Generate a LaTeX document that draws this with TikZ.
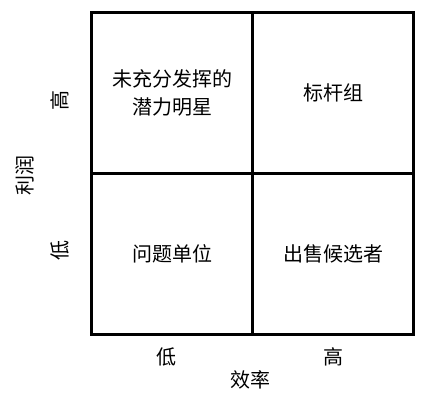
\documentclass[tikz,border=0pt]{standalone}
\usepackage{fontspec}
\setmainfont{Noto Sans CJK SC}
\usepackage{tikz}
\usetikzlibrary{positioning}

\begin{document}
\begin{tikzpicture}[x=1pt, y=1pt,
    cell/.style={draw, line width=3.5pt, minimum size=161pt, outer sep=0pt, align=center, font=\fontsize{20}{28}\selectfont},
    axis/.style={font=\fontsize{20}{24}\selectfont}]

        \useasboundingbox (0,0) rectangle (423,-400);

        \node[cell] (TL) at (172,-93) {未充分发挥的\\潜力明星};
        \node[cell, right=0pt of TL] (TR) {标杆组};
        \node[cell, below=0pt of TL] (BL) {问题单位};
        \node[cell, right=0pt of BL] (BR) {出售候选者};

        \node[axis] (xlow) at (166,-357) {低};
        \node[axis] (xhigh) at (333,-357) {高};
        \node[axis] (xname) at (250,-380) {效率};

        \node[axis, rotate=90] (yhigh) at (60,-100) {高};
        \node[axis, rotate=90] (ylow) at (60,-250) {低};
        \node[axis, rotate=90] (yname) at (25,-175) {利润};

    \end{tikzpicture}
\end{document}
